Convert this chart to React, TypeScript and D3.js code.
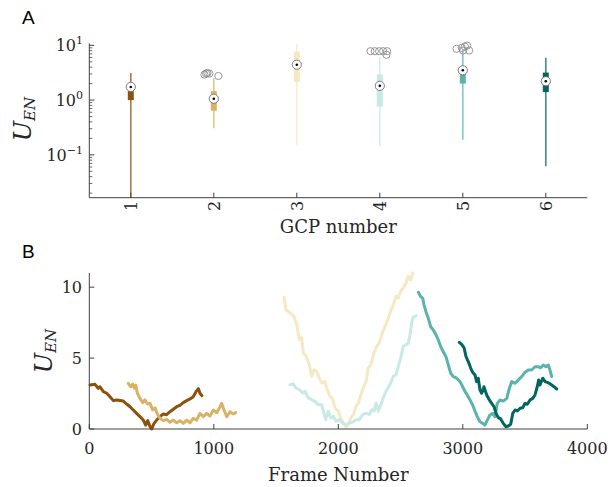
import React from 'react';
import * as d3 from 'd3';

// GCP colours (BrBG)
const gcpColors = ['#8c510a', '#d8b365', '#f6e8c3', '#c7eae5', '#5ab4ac', '#01665e'];
const gcpIds = [1, 2, 3, 4, 5, 6];

// panel A box summary (U_EN)
const whiskerLow = [0.01, 0.307, 0.153, 0.143, 0.188, 0.062];
const boxLow = [1.0, 0.64, 2.15, 0.757, 2.0, 1.4];
const medians = [1.74, 1.06, 4.43, 1.82, 3.5, 2.21];
const boxHigh = [1.46, 1.46, 7.7, 2.96, 3.12, 3.18];
const whiskerHigh = [3.12, 2.54, 10.6, 6.09, 8.05, 5.93];

// outliers: [gcp, jitter, value]
const outliers: [number, number, number][] = [
  [2, -0.113, 2.92], [2, -0.092, 3.05], [2, -0.077, 3.12], [2, -0.053, 3.05], [2, 0.055, 2.76],
  [4, -0.112, 7.82], [4, -0.06, 7.82], [4, -0.008, 7.82], [4, 0.04, 7.82], [4, 0.088, 7.82], [4, 0.08, 6.73],
  [5, -0.076, 8.64], [5, -0.012, 9.01], [5, 0.024, 9.51], [5, 0.052, 9.92], [5, 0.076, 8.05], [5, 0.004, 8.05],
];

const logTicks = [0.1, 1, 10];
const logTickExp = ['\u22121', '0', '1'];
const frameTicks = [0, 1000, 2000, 3000, 4000];
const uenTicks = [0, 5, 10];

// panel B traces: [frame, U_EN]
const trace1: [number, number][] = [
  [6, 3.1], [46, 3.15], [72, 2.87], [86, 2.98], [113, 2.63], [140, 2.52], [166, 2.28], [193, 2.0], [220, 2.05],
  [273, 1.97], [300, 1.76], [327, 1.57], [353, 1.34], [380, 1.1], [407, 0.87], [434, 0.63], [453, 0.28], [469, 0.59],
  [488, 0.16], [501, 0.0], [520, 0.4], [541, 0.63], [568, 0.87], [594, 1.06], [621, 1.01], [648, 1.22], [675, 1.39],
  [702, 1.57], [728, 1.67], [755, 1.86], [782, 2.0], [809, 2.12], [835, 2.28], [857, 2.63], [876, 2.85], [889, 2.52],
  [905, 2.35],
];
const trace2: [number, number][] = [
  [313, 3.22], [332, 2.98], [348, 3.17], [362, 2.87], [373, 3.1], [386, 2.52], [407, 2.16], [429, 1.86], [447, 2.05],
  [466, 1.76], [488, 1.81], [509, 1.34], [528, 1.5], [546, 1.06], [568, 0.75], [594, 0.59], [621, 0.68], [648, 0.47],
  [675, 0.63], [702, 0.44], [728, 0.59], [755, 0.4], [782, 0.63], [809, 0.44], [835, 0.75], [862, 0.63], [889, 1.1],
  [916, 0.87], [943, 1.1], [969, 0.92], [996, 1.34], [1023, 1.15], [1050, 1.57], [1063, 1.81], [1082, 1.34],
  [1104, 0.87], [1130, 1.22], [1157, 1.06], [1176, 1.15],
];
const trace3: [number, number][] = [
  [1564, 9.29], [1580, 8.41], [1612, 8.18], [1644, 7.95], [1666, 7.36], [1687, 6.3], [1706, 6.42], [1719, 5.36],
  [1741, 5.13], [1767, 4.53], [1786, 3.72], [1805, 4.18], [1826, 4.07], [1847, 3.6], [1867, 3.24], [1893, 3.36],
  [1907, 2.89], [1933, 2.31], [1955, 2.12], [1973, 1.48], [2000, 1.25], [2019, 0.78], [2040, 0.42], [2062, 0.12],
  [2081, 0.3], [2100, 0.78], [2121, 1.01], [2142, 1.6], [2161, 1.83], [2180, 2.42], [2201, 2.89], [2223, 3.36],
  [2241, 4.3], [2260, 4.53], [2287, 5.36], [2308, 5.83], [2329, 6.06], [2349, 6.65], [2375, 7.24], [2394, 7.6],
  [2415, 8.18], [2442, 8.77], [2464, 9.36], [2482, 9.24], [2501, 9.71], [2522, 9.94], [2544, 10.3], [2562, 10.77],
  [2581, 10.53], [2598, 11.0],
];
const trace4: [number, number][] = [
  [1612, 3.12], [1639, 3.17], [1660, 2.89], [1687, 2.77], [1714, 2.54], [1733, 2.66], [1759, 2.19], [1786, 2.07],
  [1813, 1.95], [1839, 1.71], [1867, 1.71], [1880, 1.25], [1899, 0.66], [1920, 1.25], [1939, 0.78], [1960, 0.89],
  [1982, 0.54], [2008, 0.66], [2035, 0.42], [2062, 0.3], [2088, 0.42], [2116, 0.49], [2142, 0.66], [2169, 0.66],
  [2196, 1.01], [2223, 1.13], [2249, 1.01], [2268, 1.36], [2287, 1.25], [2303, 1.83], [2321, 1.25], [2341, 1.71],
  [2361, 2.19], [2383, 2.66], [2402, 2.94], [2421, 3.24], [2442, 3.72], [2464, 3.83], [2482, 4.42], [2501, 5.0],
  [2522, 5.83], [2544, 5.94], [2562, 6.06], [2576, 6.65], [2592, 7.6], [2602, 7.88], [2624, 7.99],
];
const trace5: [number, number][] = [
  [2643, 9.64], [2662, 9.33], [2678, 9.22], [2689, 8.74], [2704, 8.27], [2723, 7.81], [2742, 7.21], [2763, 6.98],
  [2785, 6.63], [2803, 6.28], [2823, 5.8], [2843, 5.45], [2865, 5.1], [2884, 4.51], [2903, 3.93], [2924, 3.69],
  [2951, 3.58], [2978, 3.34], [2999, 2.98], [3018, 2.63], [3036, 2.4], [3058, 2.05], [3079, 1.69], [3098, 1.27],
  [3116, 0.87], [3138, 0.51], [3159, 0.4], [3178, 0.28], [3197, 0.63], [3218, 0.99], [3240, 1.1], [3258, 0.87],
  [3277, 1.81], [3299, 2.05], [3325, 1.97], [3353, 2.16], [3374, 2.87], [3393, 3.34], [3420, 3.22], [3446, 3.46],
  [3473, 3.69], [3500, 4.0], [3526, 4.16], [3553, 4.16], [3580, 4.39], [3606, 4.39], [3626, 4.32], [3647, 4.51],
  [3668, 4.39], [3687, 4.51], [3700, 4.16], [3714, 3.69],
];
const trace6: [number, number][] = [
  [2972, 6.11], [2991, 5.97], [3010, 5.73], [3026, 5.1], [3044, 4.75], [3064, 4.28], [3079, 4.0], [3098, 3.81],
  [3111, 3.34], [3124, 3.58], [3138, 2.75], [3152, 2.52], [3170, 2.98], [3192, 2.4], [3213, 2.05], [3232, 1.81],
  [3251, 1.57], [3267, 1.1], [3285, 0.8], [3304, 0.71], [3325, 0.4], [3347, 0.16], [3369, 0.23], [3385, 0.33],
  [3401, 1.1], [3420, 1.34], [3438, 1.27], [3460, 1.46], [3481, 1.5], [3500, 1.81], [3518, 1.74], [3540, 2.05],
  [3562, 2.16], [3580, 2.4], [3598, 2.98], [3609, 3.46], [3620, 3.1], [3642, 3.58], [3661, 3.34], [3679, 3.29],
  [3695, 3.22], [3714, 3.1], [3733, 2.98], [3754, 2.82],
];
const traces = [trace1, trace2, trace3, trace4, trace5, trace6];

const W = 611;
const H = 487;
const axisColor = '#404040';
const textColor = '#262626';
const serif = '"DejaVu Serif", serif';

const App: React.FC = () => {
  // panel A
  const aLeft = 89.3, aRight = 587.3, aTop = 43.3, aBottom = 197.7;
  const xA = d3.scaleLinear().domain([0.5, 6.5]).range([aLeft, aRight]);
  const yA = d3.scaleLog().domain([0.0165, 10.9]).range([aBottom, aTop]);
  const minorA: number[] = [];
  [0.01, 0.1, 1].forEach(dec => {
    for (let k = 2; k <= 9; k++) {
      const v = dec * k;
      if (v >= 0.0165 && v <= 10.9) minorA.push(v);
    }
  });

  // panel B
  const bTop = 273, bBottom = 429;
  const xB = d3.scaleLinear().domain([0, 4000]).range([aLeft, aRight]);
  const yB = d3.scaleLinear().domain([0, 11]).range([bBottom, bTop]);
  const line = d3.line<[number, number]>().x(d => xB(d[0])).y(d => yB(d[1]));

  return (
    <div style={{ position: 'absolute', left: 0, top: 0 }}>
      <svg width={W} height={H} style={{ display: 'block', background: '#fff' }}>
        <defs>
          <clipPath id="clipA">
            <rect x={aLeft} y={aTop} width={aRight - aLeft} height={aBottom - aTop} />
          </clipPath>
        </defs>

        {/* panel labels */}
        <text x={22} y={24} fontFamily='"Liberation Sans", Arial, sans-serif' fontSize={19} fill="#000">A</text>
        <text x={22} y={258} fontFamily='"Liberation Sans", Arial, sans-serif' fontSize={19} fill="#000">B</text>

        {/* ---- panel A ---- */}
        <g clipPath="url(#clipA)">
          {gcpIds.map((g, i) => (
            <g key={g}>
              <line x1={xA(g)} x2={xA(g)} y1={yA(whiskerLow[i])} y2={yA(whiskerHigh[i])}
                stroke={gcpColors[i]} strokeWidth={1.6} strokeOpacity={0.75} />
              <rect x={xA(g) - 3} width={6} y={yA(boxHigh[i])} height={yA(boxLow[i]) - yA(boxHigh[i])}
                fill={gcpColors[i]} />
            </g>
          ))}
        </g>
        {outliers.map(([g, j, v], k) => (
          <circle key={k} cx={xA(g + j)} cy={yA(v)} r={3.6} fill="none" stroke="#8c8c8c" strokeWidth={0.9} />
        ))}
        {gcpIds.map((g, i) => (
          <g key={g}>
            <circle cx={xA(g)} cy={yA(medians[i])} r={4.6} fill="#fff" stroke="#6e6e6e" strokeWidth={0.9} />
            <circle cx={xA(g)} cy={yA(medians[i])} r={1.3} fill="#000" />
          </g>
        ))}

        <g stroke={axisColor} strokeWidth={1}>
          <line x1={aLeft} x2={aLeft} y1={aTop} y2={aBottom} />
          <line x1={aLeft} x2={aRight} y1={aBottom} y2={aBottom} />
          {logTicks.map(t => <line key={t} x1={aLeft} x2={aLeft + 5} y1={yA(t)} y2={yA(t)} />)}
          {minorA.map(t => <line key={t} x1={aLeft} x2={aLeft + 3} y1={yA(t)} y2={yA(t)} strokeWidth={0.8} />)}
          {gcpIds.map(g => <line key={g} x1={xA(g)} x2={xA(g)} y1={aBottom} y2={aBottom - 5} />)}
        </g>
        <g fontFamily={serif} fill={textColor}>
          {logTicks.map((t, i) => (
            <text key={t} x={83} y={yA(t) + 6} textAnchor="end" fontSize={16}>
              10<tspan dy={-7} fontSize={11}>{logTickExp[i]}</tspan>
            </text>
          ))}
          {gcpIds.map(g => (
            <text key={g} transform={`translate(${xA(g) + 6},${aBottom + 3}) rotate(-90)`}
              textAnchor="end" fontSize={16}>{g}</text>
          ))}
          <text x={(aLeft + aRight) / 2} y={233} textAnchor="middle" fontSize={18}>GCP number</text>
          <text transform={`translate(31,119) rotate(-90)`} textAnchor="middle" fontStyle="italic" fontSize={24}>
            U<tspan dy={4} fontSize={15}>EN</tspan>
          </text>
        </g>

        {/* ---- panel B ---- */}
        <g fill="none" strokeWidth={3} strokeLinejoin="round" strokeLinecap="round">
          {traces.map((tr, i) => (
            <path key={i} d={line(tr) || ''} stroke={gcpColors[i]} />
          ))}
        </g>
        <g stroke={axisColor} strokeWidth={1}>
          <line x1={aLeft} x2={aLeft} y1={bTop} y2={bBottom} />
          <line x1={aLeft} x2={aRight} y1={bBottom} y2={bBottom} />
          {uenTicks.map(t => <line key={t} x1={aLeft} x2={aLeft + 5} y1={yB(t)} y2={yB(t)} />)}
          {frameTicks.map(t => <line key={t} x1={xB(t)} x2={xB(t)} y1={bBottom} y2={bBottom - 5} />)}
        </g>
        <g fontFamily={serif} fill={textColor} fontSize={16}>
          {uenTicks.map(t => (
            <text key={t} x={82} y={yB(t) + 6} textAnchor="end">{t}</text>
          ))}
          {frameTicks.map(t => (
            <text key={t} x={xB(t)} y={454} textAnchor="middle">{t}</text>
          ))}
          <text x={(aLeft + aRight) / 2} y={481} textAnchor="middle" fontSize={18}>Frame Number</text>
          <text transform={`translate(51.5,351) rotate(-90)`} textAnchor="middle" fontStyle="italic" fontSize={24}>
            U<tspan dy={4} fontSize={15}>EN</tspan>
          </text>
        </g>
      </svg>
    </div>
  );
};

export default App;
